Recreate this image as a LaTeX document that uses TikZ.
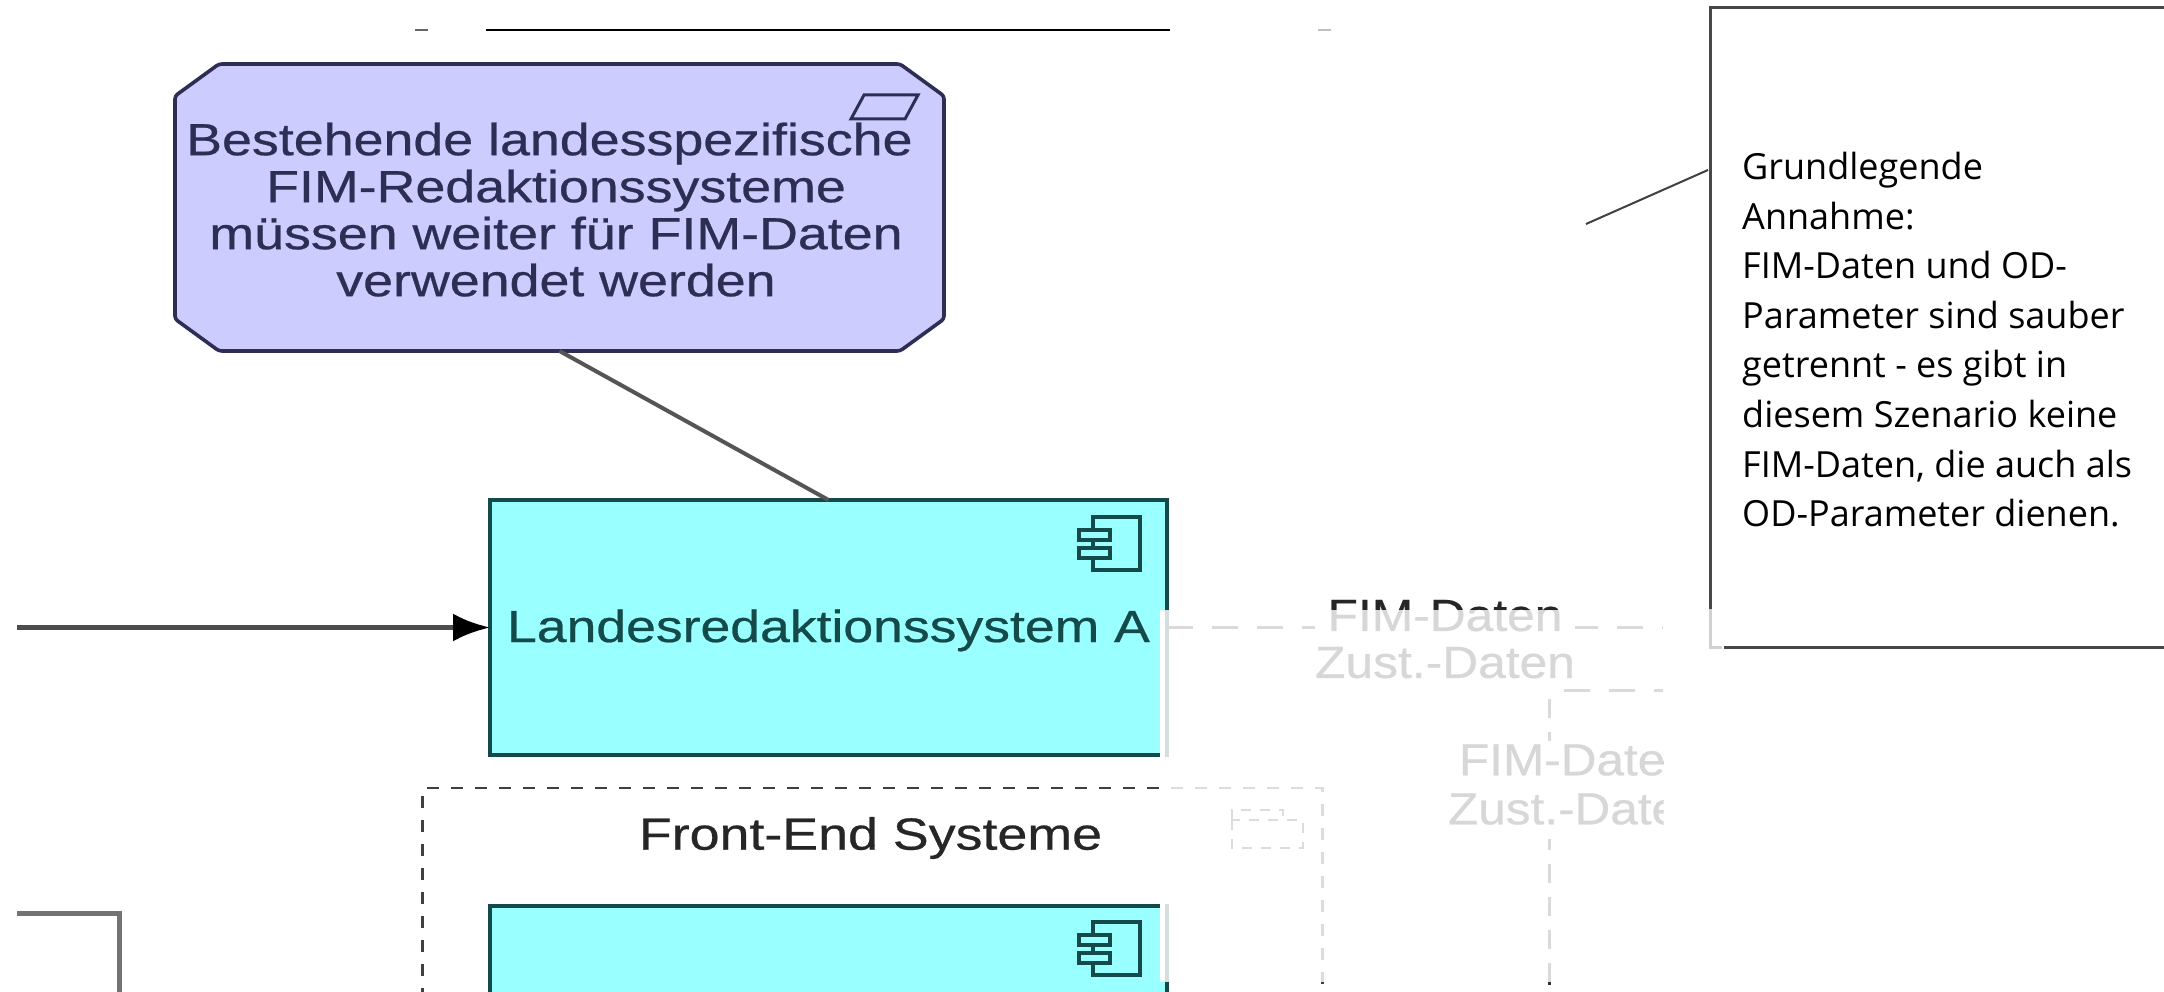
\documentclass[tikz,border=0pt]{standalone}
\usepackage{fontspec}
\setmainfont[FakeBold=0.5]{Liberation Sans}
\newfontfamily\notefont{Open Sans}
\usetikzlibrary{arrows.meta}
\definecolor{goalfill}{HTML}{CCCCFF}
\definecolor{goalline}{HTML}{2E2E55}
\definecolor{compfill}{HTML}{99FFFF}
\definecolor{compline}{HTML}{144A4A}
\definecolor{lineg}{HTML}{555555}
\newcommand{\bigfont}{\fontsize{45}{47}\selectfont}
\newcommand{\compicon}[2]{%
  \draw[compline,line width=3.4pt,fill=compfill] (#1+14,#2) rectangle (#1+61,#2+53);
  \draw[compline,line width=3.4pt,fill=compfill] (#1,#2+13) rectangle (#1+31,#2+23);
  \draw[compline,line width=3.4pt,fill=compfill] (#1,#2+31) rectangle (#1+31,#2+41);
}
\tikzset{
  x=1pt,y=-1pt,
  goalbox/.style={rectangle,minimum width=769pt,minimum height=287pt,inner sep=0pt,outer sep=0pt,text=goalline},
  compbox/.style={rectangle,draw=compline,line width=3.4pt,fill=compfill,minimum width=677pt,inner sep=0pt,outer sep=0pt,text=compline},
  groupbox/.style={rectangle,draw=black!75,line width=2.5pt,dash pattern=on 12pt off 12pt,inner sep=0pt,outer sep=0pt},
  flowdash/.style={draw=black!80,line width=3pt,dash pattern=on 26pt off 19pt},
  flowdashv/.style={draw=black!80,line width=3pt,dash pattern=on 19pt off 14pt},
  conn/.style={draw=lineg,line width=4pt},
  lab/.style={inner sep=0pt,outer sep=0pt,text=black!85,fill=white},
}
\begin{document}
\begin{tikzpicture}
\useasboundingbox (0,0) rectangle (2164,992);
\clip (0,0) rectangle (2164,992);
\fill[white] (0,0) rectangle (2164,992);

% top fragments
\coordinate (ta) at (486,30); \coordinate (tb) at (1170,30);
\draw[black,line width=1.6pt] (ta) -- (tb);
\coordinate (tc) at (415,30); \coordinate (td) at (428,30);
\draw[black!60,line width=1.6pt] (tc) -- (td);
\coordinate (te) at (1318,30); \coordinate (tf) at (1331,30);
\draw[black!25,line width=1.6pt] (te) -- (tf);

% goal
\draw[goalline,fill=goalfill,line width=3.6pt,rounded corners=3pt] (219,64) -- (900,64) -- (944,96) -- (944,319) -- (900,351) -- (219,351) -- (175,319) -- (175,96) -- cycle;
\node[goalbox] (goal) at (559.5,207.5) {\bigfont\hspace*{-7pt}\raisebox{-15pt}[94pt][94pt]{\scalebox{1.195}[1]{\begin{tabular}{@{}c@{}}Bestehende landesspezifische\hspace*{11pt}\\FIM-Redaktionssysteme\\müssen weiter für FIM-Daten\\verwendet werden\end{tabular}}}};
\draw[goalline,line width=3pt] (864,95) -- (918,95) -- (905,119) -- (851,119) -- cycle;

% components
\node[compbox,minimum height=255pt] (box1) at (828.5,627.5) {\bigfont\raisebox{-14.5pt}[20pt][20pt]{\scalebox{1.19}[1]{Landesredaktionssystem A}}};
\compicon{1079}{517}
\draw[conn] (goal.south) -- (box1.north);

\coordinate (inL) at (17,627.5);
\draw[draw=black!70,line width=5pt,-{Latex[length=37pt,width=28pt,black]}] (inL) -- (box1.west);

\coordinate (bka) at (17,913); \coordinate (bkb) at (119,913); \coordinate (bkc) at (119,1000);
\draw[draw=black!55,line width=5pt] (bka) -- (bkb) -- (bkc);

% group
\node[groupbox,minimum width=900pt,minimum height=400pt] (front) at (872.5,988) {};
\node[inner sep=0pt,text=black!85] (frontlab) at (870.5,838) {\bigfont\scalebox{1.195}[1]{Front-End Systeme}};
\draw[black!75,line width=2pt,dash pattern=on 10pt off 9pt] (1232,820) -- (1232,848) -- (1303,848) -- (1303,820) -- cycle (1232,820) -- (1232,810) -- (1283,810) -- (1283,820);
\node[compbox,minimum height=300pt] (box2) at (828.5,1056) {};
\compicon{1079}{922}

% dashed flows
\coordinate (f1end) at (1663,627.5);
\draw[flowdash] (box1.east) -- (f1end);
\node[lab] (fimA) at (1445,645) {\bigfont\scalebox{1.105}[1]{\begin{tabular}{@{}c@{}}FIM-Daten\\Zust.-Daten\end{tabular}}};
\coordinate (f2a) at (1663,690); \coordinate (f2b) at (1549,690); \coordinate (f2c) at (1549,982);
\draw[flowdash,dash phase=17pt] (f2a) -- (f2b);
\draw[flowdashv,dash phase=24pt] (f2b) -- (f2c);
\begin{scope}
\clip (1400,700) rectangle (1663,850);
\node[lab,anchor=west] (fimB) at (1448,790) {\fontsize{45}{49}\selectfont\scalebox{1.1}[1]{\begin{tabular}{@{}l@{}}\hspace*{10pt}FIM-Date\\Zust.-Date\end{tabular}}};
\end{scope}

% washed-out band
\fill[white,fill opacity=.82] (1160,610) rectangle (1663,982);
\fill[white] (1160,610) rectangle (1165,982);
\fill[white] (1663,560) rectangle (1712,680);
\coordinate (tk1) at (1549,982); \coordinate (tk2) at (1549,985);
\draw[black!80,line width=3pt] (tk1) -- (tk2);

% callout
\coordinate (nA) at (1710,8); \coordinate (nB) at (2170,8); \coordinate (nC) at (1710,609);
\coordinate (nD) at (1710,647); \coordinate (nE) at (1722,647); \coordinate (nF) at (1724,647); \coordinate (nG) at (2170,647);
\draw[black!72,line width=3pt] (nC) -- (nA) -- (nB);
\draw[black!72,line width=3pt] (nF) -- (nG);
\draw[black!18,line width=3pt] (nC) -- (nD) -- (nE);
\coordinate (lA) at (1586,224); \coordinate (lB) at (1708,170);
\draw[black!75,line width=2pt] (lA) -- (lB);
\node[anchor=north west,inner sep=0pt,align=left,font=\notefont\fontsize{36}{49.6}\selectfont] (note) at (1742,152) {Grundlegende\\Annahme:\\FIM-Daten und OD-\\Parameter sind sauber\\getrennt - es gibt in\\diesem Szenario keine\\FIM-Daten, die auch als\\OD-Parameter dienen.};
\end{tikzpicture}
\end{document}
